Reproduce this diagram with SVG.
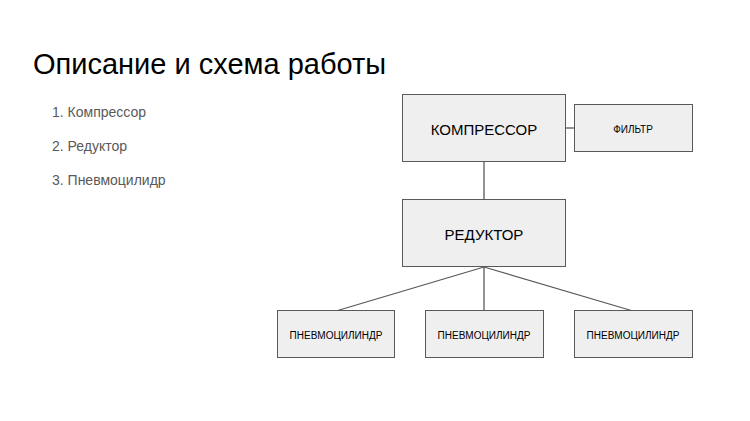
<svg xmlns="http://www.w3.org/2000/svg" width="750" height="421" viewBox="0 0 750 421">
<style>
.b{fill:#efefef;stroke:#595959;stroke-width:1}
.t{font-family:"Liberation Sans",Arial,sans-serif;fill:#000;text-anchor:middle;dominant-baseline:central}
.c{stroke:#595959;stroke-width:1.3;fill:none}
.l{font-family:"Liberation Sans",Arial,sans-serif;fill:#595959;font-size:14px}
</style>
<rect width="750" height="421" fill="#fff"/>
<text x="33" y="74" font-family="Liberation Sans,Arial,sans-serif" font-size="29" fill="#000">Описание и схема работы</text>
<text class="l" x="52" y="117">1.  Компрессор</text>
<text class="l" x="52" y="151">2.  Редуктор</text>
<text class="l" x="52" y="185">3.  Пневмоцилидр</text>
<g id="connectors">
<line class="c" x1="484" y1="162" x2="484" y2="199"/>
<line class="c" x1="566" y1="128" x2="574" y2="128"/>
<line class="c" x1="484" y1="267" x2="336" y2="311"/>
<line class="c" x1="484" y1="267" x2="484" y2="311"/>
<line class="c" x1="484" y1="267" x2="633" y2="311"/>
</g>
<g id="compressor"><rect class="b" x="402.5" y="94.5" width="163" height="67"/><text class="t" x="484" y="129" font-size="15">КОМПРЕССОР</text></g>
<g id="filter"><rect class="b" x="574.5" y="104.5" width="118" height="47"/><text class="t" x="633" y="129" font-size="10">ФИЛЬТР</text></g>
<g id="reductor"><rect class="b" x="402.5" y="199.5" width="163" height="67"/><text class="t" x="484" y="234" font-size="15">РЕДУКТОР</text></g>
<g id="cyl1"><rect class="b" x="277.5" y="310.5" width="117" height="47"/><text class="t" x="336" y="335" font-size="10">ПНЕВМОЦИЛИНДР</text></g>
<g id="cyl2"><rect class="b" x="425.5" y="310.5" width="118" height="47"/><text class="t" x="484" y="335" font-size="10">ПНЕВМОЦИЛИНДР</text></g>
<g id="cyl3"><rect class="b" x="574.5" y="310.5" width="118" height="47"/><text class="t" x="633" y="335" font-size="10">ПНЕВМОЦИЛИНДР</text></g>
</svg>
